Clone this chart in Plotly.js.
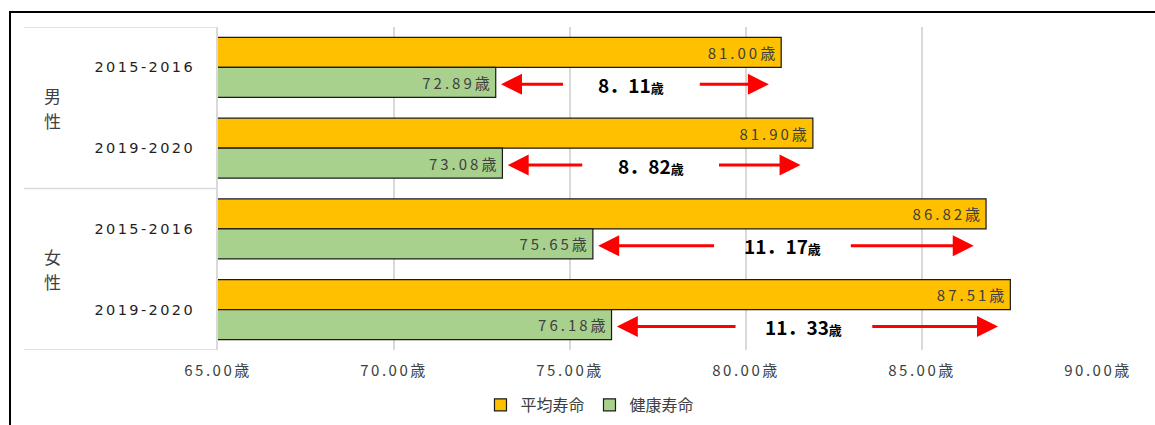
<!DOCTYPE html>
<html><head><meta charset="utf-8">
<script src="https://cdn.plot.ly/plotly-3.0.1.min.js"></script>
<style>
html,body{margin:0;padding:0;background:#fff;}
#wrap{position:relative;width:1155px;height:425px;overflow:hidden;}
#chart{width:1155px;height:425px;}
#frame{position:absolute;left:9px;top:11px;width:1300px;height:500px;border-top:2px solid #000;border-left:2px solid #000;pointer-events:none;}
.xtick text{letter-spacing:2.5px;}
.ytick text{letter-spacing:2.4px;}
.bartext{letter-spacing:3px;}
</style>
</head><body>
<div id="wrap"><div id="chart"></div><div id="frame"></div></div>
<script>
// ---- data ----
const sexes = ['男性', '女性'];
const periods = ['2015-2016', '2019-2020', '2015-2016', '2019-2020'];
const averageLife = [81.00, 81.90, 86.82, 87.51];   // 平均寿命
const healthyLife = [72.89, 73.08, 75.65, 76.18];   // 健康寿命
const seriesNames = ['平均寿命', '健康寿命'];
const xTickVals = [65, 70, 75, 80, 85, 90];

// ---- helpers ----
const idx = periods.map((_, i) => i);
const fmt = v => v.toFixed(2) + '歳';

const traces = [
  {
    type: 'bar', orientation: 'h', name: seriesNames[0],
    x: averageLife, y: idx,
    marker: {color: '#FFC000', line: {color: '#1a1a1a', width: 1.2}},
    text: averageLife.map(fmt), textposition: 'inside', insidetextanchor: 'end',
    textangle: 0, constraintext: 'none',
    textfont: {family: 'Noto Sans CJK JP', size: 15, color: '#404040'},
    hoverinfo: 'skip'
  },
  {
    type: 'bar', orientation: 'h', name: seriesNames[1],
    x: healthyLife, y: idx,
    marker: {color: '#A9D18E', line: {color: '#1a1a1a', width: 1.2}},
    text: healthyLife.map(fmt), textposition: 'inside', insidetextanchor: 'end',
    textangle: 0, constraintext: 'none',
    textfont: {family: 'Noto Sans CJK JP', size: 15, color: '#404040'},
    hoverinfo: 'skip'
  }
];

const annotations = [];
const shapes = [];
const rowOff = 0.21;
idx.forEach(i => {
  const h = healthyLife[i], a = averageLife[i];
  const diff = a - h;
  const yy = i + rowOff;
  const mid = (h + a) / 2 - 0.2;
  const half = 1.9;
  // label
  annotations.push({
    xref: 'x', yref: 'y', x: mid, y: yy, showarrow: false,
    text: diff.toFixed(2).replace('.', '．') + '<span style="font-size:13px">歳</span>',
    font: {family: 'Noto Sans CJK JP', size: 19, color: '#000', weight: 'bold'},
    xanchor: 'center', yanchor: 'middle'
  });
  // left arrow
  annotations.push({
    xref: 'x', yref: 'y', axref: 'x', ayref: 'y',
    x: h + 0.15, y: yy, ax: mid - half, ay: yy, text: '',
    showarrow: true, arrowhead: 2, arrowsize: 1.4, arrowwidth: 3, arrowcolor: '#FF0000'
  });
  // right arrow
  annotations.push({
    xref: 'x', yref: 'y', axref: 'x', ayref: 'y',
    x: a - 0.35, y: yy, ax: mid + half, ay: yy, text: '',
    showarrow: true, arrowhead: 2, arrowsize: 1.4, arrowwidth: 3, arrowcolor: '#FF0000'
  });
});

// group labels (vertical text, one character per line)
sexes.forEach((s, g) => {
  const chars = s.split('');
  chars.forEach((c, k) => {
    annotations.push({
      xref: 'paper', yref: 'y', x: -0.1886,
      y: g * 2 + 0.5 + (k - (chars.length - 1) / 2) * 0.31,
      text: c, showarrow: false,
      font: {family: 'Noto Sans CJK JP', size: 17, color: '#404040'},
      xanchor: 'center', yanchor: 'middle'
    });
  });
});

// group divider lines
[-0.5, 1.5, 3.5].forEach(v => {
  shapes.push({
    type: 'line', xref: 'paper', yref: 'y', x0: -0.2205, x1: -0.002, y0: v, y1: v,
    line: {color: '#D9D9D9', width: 1.5}
  });
});

const layout = {
  width: 1155, height: 425,
  margin: {l: 218, r: 57, t: 27, b: 75, autoexpand: false},
  paper_bgcolor: '#fff', plot_bgcolor: '#fff',
  barmode: 'group', bargap: 0.257, bargroupgap: 0,
  showlegend: true,
  legend: {
    orientation: 'h', x: 0.4227, xanchor: 'center', y: -0.17, yanchor: 'middle',
    font: {family: 'Noto Sans CJK JP', size: 16, color: '#404040'},
    traceorder: 'normal', itemwidth: 30
  },
  xaxis: {
    range: [65, 90], tickvals: xTickVals, ticktext: xTickVals.map(fmt),
    showgrid: true, gridcolor: '#D9D9D9', gridwidth: 2,
    zeroline: false, showline: false, ticks: '',
    ticklabelstandoff: 10,
    tickfont: {family: 'Noto Sans CJK JP', size: 15, color: '#404040'}
  },
  yaxis: {
    range: [3.5, -0.5], tickvals: idx, ticktext: periods,
    showgrid: false, zeroline: false,
    showline: true, linecolor: '#D9D9D9', linewidth: 2,
    ticks: '', ticklabelstandoff: 18,
    tickfont: {family: 'DejaVu Sans', size: 14.5, color: '#1f1f1f'}
  },
  annotations: annotations,
  shapes: shapes
};

Plotly.newPlot('chart', traces, layout, {displayModeBar: false, staticPlot: true});
</script>
</body></html>
